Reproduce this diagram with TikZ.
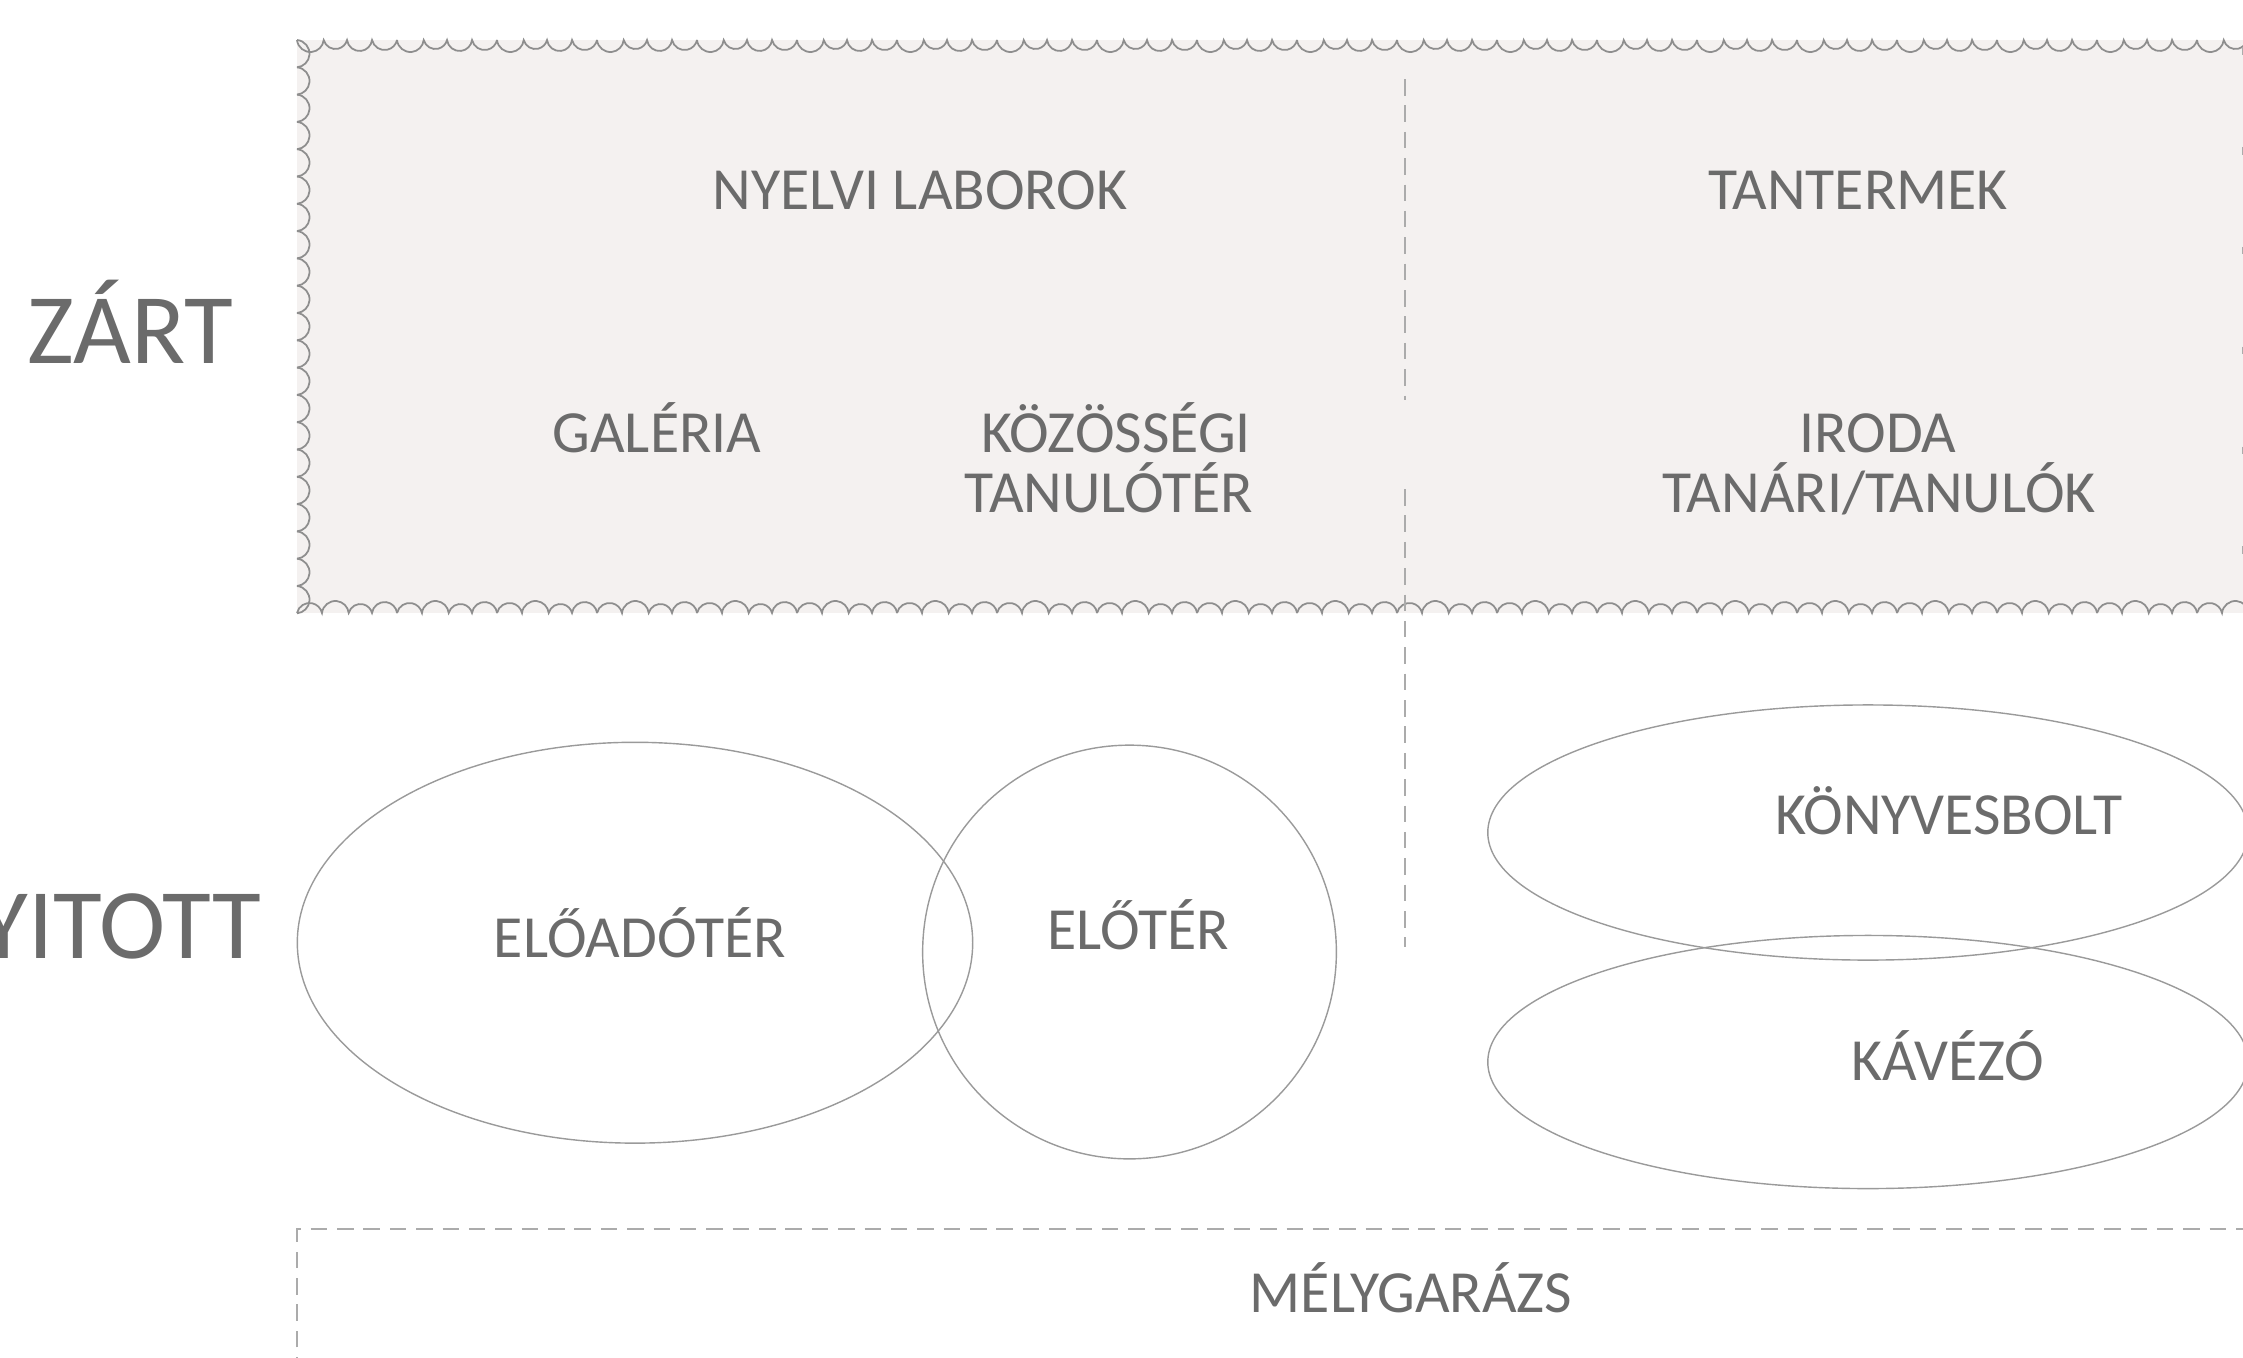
\documentclass[tikz,border=0pt]{standalone}
\usepackage{fontspec}
\setmainfont{Carlito}
\usetikzlibrary{shapes.geometric}
\definecolor{txt}{HTML}{6B6B6B}
\definecolor{ln}{HTML}{9A9A9A}
\definecolor{scl}{HTML}{8E8E8E}
\definecolor{dsh}{HTML}{ABABAB}
\definecolor{zfill}{HTML}{F4F1F0}
\begin{document}
\begin{tikzpicture}[x=0.01cm,y=-0.01cm,
  lbl/.style={text=txt, font=\fontsize{17}{17}\selectfont, anchor=base, inner sep=0pt},
  big/.style={text=txt, font=\fontsize{28.4}{30}\selectfont, inner sep=0pt},
  zone/.style={ellipse, draw=ln, line width=0.4pt, inner sep=0pt},
  dline/.style={draw=dsh, line width=0.45pt, dash pattern=on 4.7pt off 2.8pt},
  scallop/.style={draw=scl, line width=0.5pt}]
\useasboundingbox (0,0) rectangle (2243,1357);
\clip (0,0) rectangle (2243,1357);
% closed zone background
\fill[zfill] (297,40) rectangle (2243,613);
% top edge: repeating unit of four scallops (100 px)
\foreach \i in {0,...,19}
  \draw[scallop] (297+\i*100,40)
    arc[start angle=186.1, end angle=353.9, radius=0.1343cm]
    arc[start angle=194.6, end angle=345.4, radius=0.1204cm]
    arc[start angle=187.3, end angle=352.7, radius=0.126cm]
    arc[start angle=192.6, end angle=347.4, radius=0.128cm];
% bottom edge
\foreach \i in {0,...,19}
  \draw[scallop] (297+\i*100,613)
    arc[start angle=167.4, end angle=12.6, radius=0.128cm]
    arc[start angle=173.9, end angle=6.1, radius=0.1343cm]
    arc[start angle=165.4, end angle=14.6, radius=0.1204cm]
    arc[start angle=172.7, end angle=7.3, radius=0.126cm];
% left edge
\foreach \i in {0,...,20}
  \draw[scallop] (297,40+\i*27.3) arc[start angle=85, end angle=-85, radius=0.137cm];
\draw[draw=dsh, line width=0.5pt, dash pattern=on 2.2pt off 26.2pt] (2242.5,47) -- (2242.5,613);
% divider
\draw[dline] (1405,79) -- (1405,400);
\draw[dline] (1405,489) -- (1405,947);
% garage box
\draw[dline] (297,1400) -- (297,1229) -- (2300,1229);
% open zone ellipses
\node[zone, minimum width=6.75cm, minimum height=4.006cm] (ea) at (635,942.7) {};
\node[zone, minimum width=4.135cm, minimum height=4.135cm] (eb) at (1129.5,952) {};
\node[zone, minimum width=7.6cm, minimum height=2.55cm] (ec) at (1868,832.5) {};
\node[zone, minimum width=7.6cm, minimum height=2.53cm] (ed) at (1868,1062) {};
% row labels
\node[big, anchor=base] (zart) at (130,363) {ZÁRT};
\node[big, anchor=base east] (nyitott) at (262,958) {NYITOTT};
% labels
\node[lbl] (nyelvi) at (920,209) {NYELVI LABOROK};
\node[lbl] (tanterm) at (1858,209) {TANTERMEK};
\node[lbl] (galeria) at (657,452) {GALÉRIA};
\node[lbl] (kozos1) at (1116,452) {KÖZÖSSÉGI};
\node[lbl] (kozos2) at (1109,512) {TANULÓTÉR};
\node[lbl] (iroda1) at (1878,452) {IRODA};
\node[lbl] (iroda2) at (1879,512) {TANÁRI/TANULÓK};
\node[lbl] (eloado) at (640,957) {ELŐADÓTÉR};
\node[lbl] (eloter) at (1138,949) {ELŐTÉR};
\node[lbl] (konyv) at (1949,834) {KÖNYVESBOLT};
\node[lbl] (kavezo) at (1948,1080) {KÁVÉZÓ};
\node[lbl] (melyg) at (1411,1312) {MÉLYGARÁZS};
\end{tikzpicture}
\end{document}
